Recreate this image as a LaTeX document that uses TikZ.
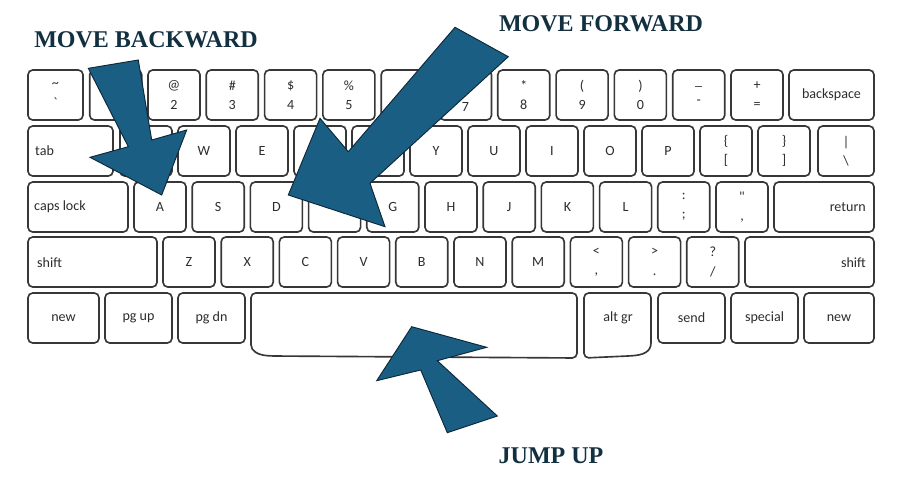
\documentclass[tikz,border=0pt]{standalone}
\usepackage{fontspec}
\setmainfont{Liberation Serif}
\newfontfamily\keyfont{Carlito}
\usepackage{tikz}

\definecolor{keyline}{RGB}{55,55,55}
\definecolor{keytext}{RGB}{45,45,45}
\definecolor{arrowblue}{RGB}{26,94,132}
\definecolor{arrowedge}{RGB}{14,40,56}
\definecolor{headink}{RGB}{18,48,64}

\tikzset{
  key/.style={draw=keyline, line width=1.4pt, rounded corners=4pt, fill=white,
    minimum width=52*0.03cm, minimum height=50*0.03cm, inner sep=0pt, align=center,
    text=keytext, font=\keyfont\fontsize{12}{16.5}\selectfont},
  keylbl/.style={text=keytext, inner sep=0pt, font=\keyfont\fontsize{12}{16.5}\selectfont},
  keyline/.style={draw=keyline, line width=1.4pt, fill=white},
  bigarrow/.style={fill=arrowblue, draw=arrowedge, line width=0.8pt, line join=miter},
  heading/.style={text=headink, inner sep=0pt, font=\bfseries\fontsize{20.5}{24}\selectfont}
}

\begin{document}
\begin{tikzpicture}[x=0.03cm, y=-0.03cm]
  \useasboundingbox (0,0) rectangle (904,477);
  % number row
  \node[key, minimum width=55*0.03cm] (k-tilde) at (55.5,95) {\textasciitilde\\\textasciigrave};
  \foreach \lbl [count=\i from 1] in {{}, {@\\2}, {\#\\3}, {\$\\4}, {\%\\5}, {}, {\strut\\7}, {*\\8}, {(\\9}, {)\\0}, {\_\\-}, {+\\=}}
    \node[key] (k1-\i) at (57.4+58.3*\i,95) {\lbl};
  \node[key, minimum width=85*0.03cm] (k-back) at (831.5,95) {backspace};
  % top letter row
  \node[key, minimum width=85*0.03cm] (k-tab) at (70.5,151) {};
  \node[keylbl, anchor=west] (t-tab) at (35,151) {tab};
  \foreach \lbl [count=\i from 0] in {{}, W, E, {}, {}, Y, U, I, O, P, {\{\\{}[}, {\}\\]}}
    \node[key] (k2-\i) at (146+58*\i,151) {\lbl};
  \node[key, minimum width=56*0.03cm] (k-bslash) at (846,151) {|\\\textbackslash};
  % home row
  \node[key, minimum width=100*0.03cm] (k-caps) at (78,207) {};
  \node[keylbl, anchor=west] (t-caps) at (34,207) {caps lock};
  \foreach \lbl [count=\i from 0] in {A, S, D, {}, G, H, J, K, L, {:\\;}, {"\\,}}
    \node[key] (k3-\i) at (160+58.2*\i,207) {\lbl};
  \node[key, minimum width=100*0.03cm] (k-return) at (824,207) {};
  \node[keylbl, anchor=east] (t-return) at (866,207) {return};
  % bottom letter row
  \node[key, minimum width=129*0.03cm] (k-lshift) at (92.5,262) {};
  \node[keylbl, anchor=west] (t-lshift) at (37,263) {shift};
  \foreach \lbl [count=\i from 0] in {Z, X, C, V, B, N, M, {<\\,}, {>\\.}, {?\\/}}
    \node[key] (k4-\i) at (189+58.2*\i,262) {\lbl};
  \node[key, minimum width=129*0.03cm] (k-rshift) at (809.5,262) {};
  \node[keylbl, anchor=east] (t-rshift) at (866,263) {shift};
  % space row
  \node[key, minimum width=71*0.03cm] (k-new1) at (63.5,318) {new};
  \node[key, minimum width=67*0.03cm] (k-pgup) at (138.5,318) {pg up};
  \node[key, minimum width=67*0.03cm] (k-pgdn) at (211.5,318) {pg dn};
  \draw[keyline, rounded corners=4pt] (251,340) -- (251,293) -- (577,293) -- (577,358) -- (272,356)
    .. controls (258,355) and (251,351) .. (251,340) -- cycle;
  \draw[keyline, rounded corners=4pt] (584,358) -- (584,293) -- (651,293) -- (651,338)
    .. controls (651,352) and (643,355) .. (628,356) -- cycle;
  \node[keylbl] (t-altgr) at (618,318) {alt gr};
  \node[key, minimum width=67*0.03cm] (k-send) at (691.5,318) {send};
  \node[key, minimum width=67*0.03cm] (k-special) at (764.5,318) {special};
  \node[key, minimum width=70*0.03cm] (k-new2) at (839,318) {new};
  % arrows
  \filldraw[bigarrow] (88.3,68.3) -- (138.3,60) -- (151.7,140) -- (186.7,130) -- (161.7,195) -- (90,157.3) -- (128.3,146.7) -- cycle;
  \filldraw[bigarrow] (455,27.3) -- (508.3,56.7) -- (370,183.3) -- (385,226.7) -- (288.3,195) -- (320,118.3) -- (348.3,151.7) -- cycle;
  \filldraw[bigarrow] (411.7,326.7) -- (486.7,347.3) -- (437.3,360.7) -- (497.3,416) -- (447.3,432.7) -- (420.7,370) -- (376.7,380.7) -- cycle;
  % captions
  \node[heading] (back) at (146,40) {MOVE BACKWARD};
  \node[heading] (fwd) at (601,24) {MOVE FORWARD};
  \node[heading] (jump) at (551,456) {JUMP UP};
\end{tikzpicture}
\end{document}
